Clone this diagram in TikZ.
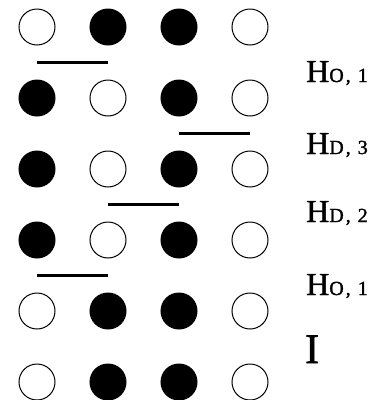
\documentclass[tikz,border=0pt]{standalone}
\usepackage{fontspec}
\setmainfont{Liberation Serif}
\newfontfamily\labfont{Liberation Serif}[FakeBold=1.3]
\usetikzlibrary{calc}

\newcommand{\hlab}[2]{H{\fontsize{20}{20}\selectfont #1\hspace{2pt},\hspace{7pt}#2}}

\tikzset{
  bead/.style={circle, draw, line width=1pt, minimum size=36pt, inner sep=0pt},
  on/.style={bead, fill=black},
  off/.style={bead, fill=white},
  bar/.style={line width=3.5pt},
  lab/.style={anchor=base west, inner sep=0pt, font=\labfont\fontsize{32}{32}\selectfont}
}

\begin{document}
\begin{tikzpicture}[x=1pt, y=-1pt]
    \useasboundingbox (0,0) rectangle (375,400);
    % Hàng hạt, từ trên xuống
    \foreach \r/\row in {1/{off,on,on,off}, 2/{on,off,on,off}, 3/{on,off,on,off},
                         4/{on,off,on,off}, 5/{off,on,on,off}, 6/{off,on,on,off}} {
        \foreach \s [count=\c] in \row {
            \node[\s] (c\r\c) at ({37+71*(\c-1)}, {27+71*(\r-1)}) {};
        }
    }
    % Vạch giữa các hàng
    \draw[bar] ($(c11)!0.5!(c21)$) -- ($(c12)!0.5!(c22)$);
    \draw[bar] ($(c23)!0.5!(c33)$) -- ($(c24)!0.5!(c34)$);
    \draw[bar] ($(c32)!0.5!(c42)$) -- ($(c33)!0.5!(c43)$);
    \draw[bar] ($(c41)!0.5!(c51)$) -- ($(c42)!0.5!(c52)$);
    % Nhãn
    \node[lab] (h1) at (306,82) {\hlab{O}{1}};
    \node[lab] (h2) at (306,154) {\hlab{D}{3}};
    \node[lab] (h3) at (306,222) {\hlab{D}{2}};
    \node[lab] (h4) at (306,295) {\hlab{O}{1}};
    \node[lab, font=\labfont\fontsize{42}{42}\selectfont] (h5) at (305,363) {I};
\end{tikzpicture}
\end{document}
